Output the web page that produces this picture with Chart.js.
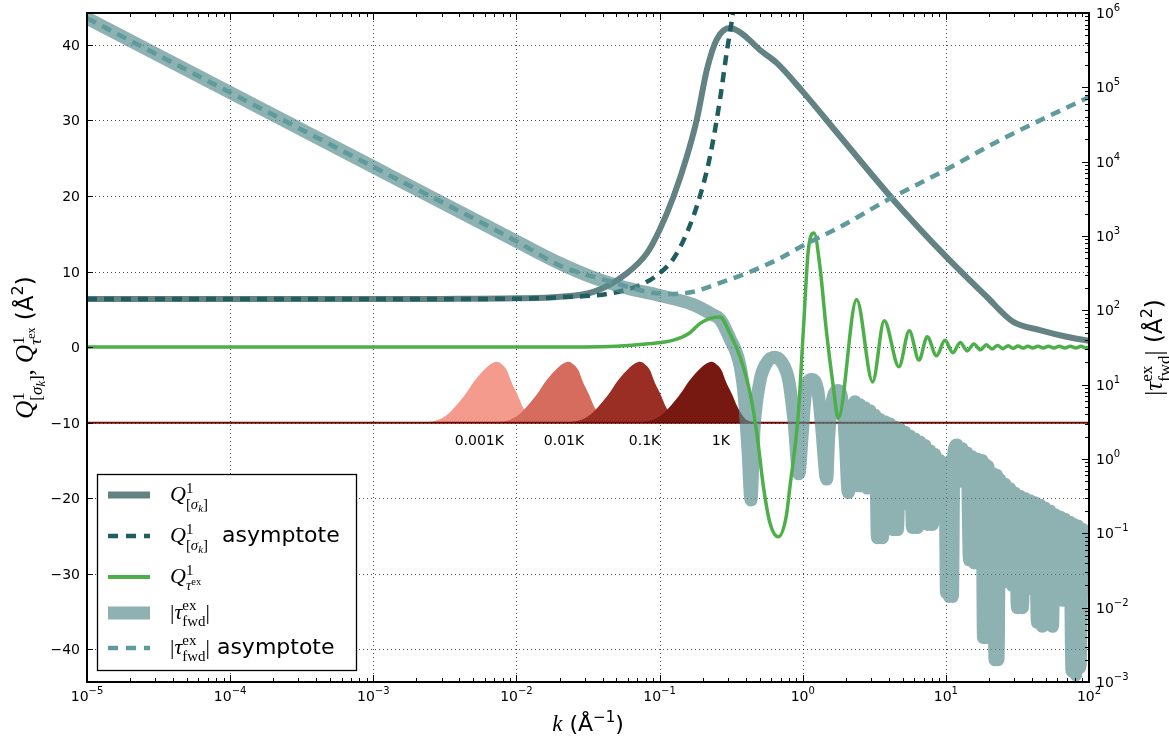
<!DOCTYPE html>
<html>
<head>
<meta charset="utf-8">
<script src="https://cdn.jsdelivr.net/npm/chart.js@4/dist/chart.umd.min.js"></script>
<style>
  body { margin: 0; background: #fff; }
  #wrap { width: 1169px; height: 740px; }
</style>
</head>
<body>
<div id="wrap"><canvas id="chart" width="1169" height="740"></canvas></div>
<script>
// ---- data ----
// Q^1_[sigma_k] (left axis)
const kQ = [1e-5, 1e-4, 1e-3, 0.003, 0.01, 0.0202, 0.0345, 0.059, 0.0814, 0.1, 0.125, 0.155, 0.182, 0.214, 0.251, 0.31, 0.375, 0.503, 0.658, 1.0, 1.82, 4.29, 10, 19.3, 29.5, 45.4, 69.7, 100];
const qSigma = [6.36, 6.36, 6.36, 6.38, 6.45, 6.66, 7.3, 9.76, 12.4, 15.5, 19.9, 25.2, 30.1, 36.7, 40.7, 42.2, 41.5, 39.3, 37.6, 33.8, 27.9, 19.5, 12.0, 6.66, 3.35, 2.25, 1.37, 0.85];

// Q^1_[sigma_k] asymptote (left axis)
const kQAsym = [1e-5, 1e-3, 0.01, 0.02, 0.045, 0.077, 0.1, 0.125, 0.155, 0.191, 0.225, 0.264, 0.294, 0.328, 0.345];
const qSigmaAsym = [6.36, 6.36, 6.4, 6.6, 7.1, 8.4, 9.76, 11.7, 15.1, 19.9, 25.2, 32.7, 38.9, 44.6, 48];

// Q^1_tau_ex (left axis)
const kTau = [1e-5, 0.01, 0.03, 0.05, 0.08, 0.125, 0.16, 0.191, 0.225, 0.264, 0.31, 0.365, 0.429, 0.478, 0.531, 0.591, 0.675, 0.765, 0.815, 0.932, 1.01, 1.094, 1.2, 1.32, 1.47, 1.635, 1.77, 2.38, 3.08, 3.71, 4.7, 5.55, 6.49, 7.41, 8.6, 9.86, 11.2, 12.6, 14.1, 15.7, 17.4, 19.2, 21.0, 23.0, 25.0, 27.3, 29.5, 31.9, 34.5, 37.4, 40.5, 44, 48, 52, 57, 62, 68, 74, 81, 88, 95, 100];
const qTauEx = [0, 0, 0, 0.1, 0.4, 0.93, 1.8, 3.1, 3.8, 4.0, 1.8, -1.3, -6.1, -11.4, -18.4, -23.3, -25.1, -22.5, -18.4, -8.8, 2.2, 12.8, 15.1, 10.6, 1.8, -5.2, -9.4, 6.3, -4.6, 3.5, -2.6, 2.16, -1.72, 1.37, -1.15, 0.9, -0.75, 0.62, -0.5, 0.42, -0.35, 0.3, -0.25, 0.22, -0.2, 0.18, -0.16, 0.14, -0.13, 0.12, -0.12, 0.11, -0.1, 0.1, -0.1, 0.1, -0.1, 0.1, -0.1, 0.1, -0.1, 0];

// |tau_fwd^ex| (right axis), stored as powers of ten
const kFwd = [1e-5, 1e-4, 1e-3, 0.01, 0.0202, 0.0345, 0.059, 0.1, 0.17, 0.236, 0.264, 0.31, 0.365, 0.39, 0.415, 0.435, 0.457, 0.503, 0.554, 0.63, 0.716, 0.80, 0.87, 0.94, 0.99, 1.04, 1.15, 1.28, 1.36, 1.47, 1.52, 1.6, 1.77, 1.91, 1.99, 2.08,
  2.21, 2.32, 2.414, 2.51, 2.617, 2.72, 2.835, 2.95, 3.072, 3.20, 3.329, 3.46, 3.608, 3.75, 3.91, 4.07, 4.238, 4.41, 4.592, 4.78, 4.977, 5.18, 5.393, 5.61, 5.846, 6.08, 6.335, 6.59, 6.865, 7.14, 7.439, 7.74, 8.062, 8.39, 8.737, 9.09, 9.469, 9.86,
  10.1, 10.34, 10.6, 10.85, 11.12, 11.39, 11.95, 12.45, 12.95, 13.49, 14.04, 14.62, 15.22, 15.84, 16.49, 17.17, 17.87, 18.31, 18.75, 19.2, 19.68, 20.49, 21.33, 22.03, 22.56, 23.12, 23.87, 24.85, 25.86, 26.93, 28.03, 29.18, 30.38, 31.62, 32.92, 34.27, 35.68, 37.14, 38.67, 40.25, 41.9, 43.62, 45.41, 47.27, 49.2, 51.23, 53.33, 55.51, 57.79, 60.15, 62.62, 65.19, 67.86, 70.66, 73.55, 75.96, 78.45, 81.0, 83.67, 86.41, 90.7, 95.1, 100];
const fwdExp = [5.93, 4.93, 3.93, 2.93, 2.63, 2.44, 2.30, 2.2, 2.08, 1.94, 1.88, 1.62, 1.25, 0.85, 0.1, -0.55, 0.4, 1.05, 1.28, 1.37, 1.3, 1.05, 0.5, -0.2, 0.3, 0.85, 1.07, 0.9, 0.4, -0.27, 0.3, 0.75, 0.92, 0.7, 0.2, -0.45,
  0.4, 0.77, -0.36, 0.73, -0.36, 0.69, -0.39, 0.65, -0.39, 0.59, -1.06, 0.53, -1.06, 0.50, -0.6, 0.47, -0.95, 0.43, -0.95, 0.40, -0.6, 0.36, -0.6, 0.31, -0.92, 0.27, -0.92, 0.23, -0.62, 0.18, -0.88, 0.11, -0.88, 0.06, -0.63, -0.02, -0.64, -0.10,
  -1.8, -0.08, -1.85, -0.02, -1.85, 0.10, 0.19, -0.3, 0.14, -0.28, 0.08, -1.36, 0.03, -1.40, 0.0, -1.36, -0.02, -2.4, -0.07, -2.4, -0.10, -1.4, -0.2, -2.7, -0.22, -2.7, -0.28, -1.5, -0.34, -1.65, -0.40, -1.7, -0.46, -2.0, -0.50, -2.0, -0.53, -1.7, -0.56, -1.75, -0.59, -2.2, -0.62, -2.25, -0.66, -1.8, -0.70, -2.25, -0.75, -1.8, -0.78, -1.9, -0.81, -1.8, -0.85, -2.85, -0.88, -2.9, -0.90, -2.8, -0.95, -1.2, -1.0];

// |tau_fwd^ex| asymptote (right axis), powers of ten
const kFwdAsym = [1e-5, 1e-3, 0.01, 0.0202, 0.045, 0.077, 0.118, 0.172, 0.264, 0.406, 0.694, 1.0, 1.82, 3.86, 10, 23.9, 100];
const fwdAsymExp = [5.93, 3.93, 2.93, 2.6, 2.39, 2.26, 2.22, 2.25, 2.37, 2.5, 2.7, 2.87, 3.12, 3.48, 3.89, 4.29, 4.87];

// thermal distributions drawn on the -10 baseline
const humpShape = [-10, -9.97, -9.88, -9.5, -8.6, -7.1, -5.9, -4.65, -3.55, -2.65, -2.15, -1.95, -2.2, -3.05, -4.5, -6.1, -8.1, -9.45, -9.9, -10];
const kHump1 = [0.0014, 0.00212, 0.00249, 0.00293, 0.00344, 0.00405, 0.00453, 0.00501, 0.00558, 0.00621, 0.00676, 0.0073, 0.00782, 0.00857, 0.00918, 0.01007, 0.0112, 0.01248, 0.01396, 0.0159];
const kHump2 = [0.0044, 0.0067, 0.00787, 0.00926, 0.01088, 0.0128, 0.01432, 0.01584, 0.01764, 0.01963, 0.02137, 0.02308, 0.02472, 0.0271, 0.0290, 0.03184, 0.0354, 0.03946, 0.04414, 0.0503];
const kHump3 = [0.014, 0.0212, 0.0249, 0.0293, 0.0344, 0.0405, 0.0453, 0.0501, 0.0558, 0.0621, 0.0676, 0.073, 0.0782, 0.0857, 0.0918, 0.1007, 0.112, 0.1248, 0.1396, 0.159];
const kHump4 = [0.044, 0.067, 0.0787, 0.0926, 0.1088, 0.128, 0.1432, 0.1584, 0.1764, 0.1963, 0.2137, 0.2308, 0.2472, 0.271, 0.290, 0.3184, 0.354, 0.3946, 0.4414, 0.503];
const humpLabels = ['0.001K', '0.01K', '0.1K', '1K'];
const humpLabelK = [0.0055, 0.0215, 0.0785, 0.268];
const humpLabelY = -12.3;
const baseK = [1e-5, 100];
const baseY = [-10, -10];

// ticks
const xTickValues = [1e-5, 1e-4, 1e-3, 1e-2, 1e-1, 1, 10, 100];
const xTickExp = ['\u22125', '\u22124', '\u22123', '\u22122', '\u22121', '0', '1', '2'];
const yTickValues = [-40, -30, -20, -10, 0, 10, 20, 30, 40];
const yTickLabels = ['\u221240', '\u221230', '\u221220', '\u221210', '0', '10', '20', '30', '40'];
const y1TickValues = [1e-3, 1e-2, 1e-1, 1, 10, 100, 1e3, 1e4, 1e5, 1e6];
const y1TickExp = ['\u22123', '\u22122', '\u22121', '0', '1', '2', '3', '4', '5', '6'];

// colours
const qColor = '#638283';
const qAsymColor = '#1f5d5f';
const greenColor = '#4caf49';
const fwdColor = 'rgba(88,140,142,0.68)';
const fwdAsymColor = '#5f9b9c';
const humpColors = ['#f59b8d', '#d66c5e', '#9b2e24', '#771910'];
const baseColor = '#6b0a05';

const pts = (xs, ys) => xs.map((x, i) => ({ x: x, y: ys[i] }));
const pow10 = (xs, es) => xs.map((x, i) => ({ x: x, y: Math.pow(10, es[i]) }));

const sans = s => `${s}px "DejaVu Sans"`;
const it = s => `italic ${s}px "Liberation Serif"`;
const rm = s => `${s}px "Liberation Serif"`;

function qSigmaParts(s) {
    return [
        { t: 'Q', f: it(s) },
        { t: '1', f: rm(s * 0.68), dy: -s * 0.38, save: true },
        { t: '[', f: rm(s * 0.68), dy: s * 0.36, back: true },
        { t: '\u03c3', f: it(s * 0.68), dy: s * 0.36 },
        { t: 'k', f: it(s * 0.5), dy: s * 0.48 },
        { t: ']', f: rm(s * 0.68), dy: s * 0.36 }
    ];
}
function qTauParts(s) {
    return [
        { t: 'Q', f: it(s) },
        { t: '1', f: rm(s * 0.68), dy: -s * 0.38, save: true },
        { t: '\u03c4', f: it(s * 0.68), dy: s * 0.3, back: true },
        { t: 'ex', f: rm(s * 0.48), dy: s * 0.08 }
    ];
}
function tauFwdParts(s) {
    return [
        { t: '|', f: rm(s) },
        { t: '\u03c4', f: it(s) },
        { t: 'ex', f: rm(s * 0.68), dy: -s * 0.4, save: true },
        { t: 'fwd', f: rm(s * 0.68), dy: s * 0.3, back: true },
        { t: '|', f: rm(s), merge: true }
    ];
}

function drawRich(ctx, parts, x, y, align) {
    const run = (x0, draw) => {
        let cx = x0, saved = x0, hi = x0;
        for (const p of parts) {
            if (p.save) saved = cx;
            if (p.back) { hi = cx; cx = saved; }
            if (p.merge) cx = Math.max(cx, hi);
            ctx.font = p.f;
            if (draw) ctx.fillText(p.t, cx, y + (p.dy || 0));
            cx += ctx.measureText(p.t).width;
        }
        return Math.max(cx, hi) - x0;
    };
    const w = run(0, false);
    const x0 = align === 'center' ? x - w / 2 : align === 'right' ? x - w : x;
    run(x0, true);
    return w;
}

function hline(ctx, x1, y1, x2, y2) {
    ctx.beginPath();
    ctx.moveTo(x1, y1);
    ctx.lineTo(x2, y2);
    ctx.stroke();
}

const legendItems = [
    { parts: qSigmaParts(22), color: qColor, width: 7, dash: [] },
    { parts: qSigmaParts(22).concat([{ t: '  asymptote', f: sans(22), merge: true }]), color: qAsymColor, width: 4.5, dash: [10, 8] },
    { parts: qTauParts(22), color: greenColor, width: 4, dash: [] },
    { parts: tauFwdParts(22), color: fwdColor, width: 13, dash: [] },
    { parts: tauFwdParts(22).concat([{ t: ' asymptote', f: sans(22) }]), color: fwdAsymColor, width: 4.5, dash: [10, 8] }
];

const decor = {
    id: 'decor',
    beforeDatasetsDraw(chart) {
        const { ctx, chartArea: a, scales } = chart;
        ctx.save();
        ctx.strokeStyle = 'rgba(0,0,0,0.7)';
        ctx.lineWidth = 1;
        ctx.setLineDash([1, 3]);
        xTickValues.slice(1, -1).forEach(v => {
            const px = Math.round(scales.x.getPixelForValue(v)) + 0.5;
            hline(ctx, px, a.top, px, a.bottom);
        });
        yTickValues.forEach(v => {
            const py = Math.round(scales.y.getPixelForValue(v)) + 0.5;
            hline(ctx, a.left, py, a.right, py);
        });
        ctx.restore();
    },
    afterDatasetsDraw(chart) {
        const { ctx, chartArea: a, scales } = chart;
        ctx.save();
        ctx.strokeStyle = '#000';
        ctx.fillStyle = '#000';
        ctx.lineWidth = 1;

        // ticks
        xTickValues.forEach(v => {
            const px = Math.round(scales.x.getPixelForValue(v)) + 0.5;
            hline(ctx, px, a.bottom, px, a.bottom - 7);
            hline(ctx, px, a.top, px, a.top + 7);
        });
        for (let d = -5; d < 2; d++) {
            for (let m = 2; m < 10; m++) {
                const px = Math.round(scales.x.getPixelForValue(m * Math.pow(10, d))) + 0.5;
                hline(ctx, px, a.bottom, px, a.bottom - 4);
                hline(ctx, px, a.top, px, a.top + 4);
            }
        }
        yTickValues.forEach(v => {
            const py = Math.round(scales.y.getPixelForValue(v)) + 0.5;
            hline(ctx, a.left, py, a.left + 6, py);
        });
        y1TickValues.forEach(v => {
            const py = Math.round(scales.y1.getPixelForValue(v)) + 0.5;
            hline(ctx, a.right, py, a.right - 7, py);
        });
        for (let d = -3; d < 6; d++) {
            for (let m = 2; m < 10; m++) {
                const py = Math.round(scales.y1.getPixelForValue(m * Math.pow(10, d))) + 0.5;
                hline(ctx, a.right, py, a.right - 4, py);
            }
        }

        // frame
        ctx.lineWidth = 2;
        ctx.strokeRect(a.left, a.top, a.right - a.left, a.bottom - a.top);

        // tick labels
        ctx.textBaseline = 'alphabetic';
        xTickValues.forEach((v, i) => {
            const px = scales.x.getPixelForValue(v);
            drawRich(ctx, [{ t: '10', f: sans(14) }, { t: xTickExp[i], f: sans(10), dy: -7 }], px, a.bottom + 19, 'center');
        });
        yTickValues.forEach((v, i) => {
            const py = scales.y.getPixelForValue(v);
            drawRich(ctx, [{ t: yTickLabels[i], f: sans(14) }], a.left - 7, py + 5, 'right');
        });
        y1TickValues.forEach((v, i) => {
            const py = scales.y1.getPixelForValue(v);
            drawRich(ctx, [{ t: '10', f: sans(14) }, { t: y1TickExp[i], f: sans(10), dy: -7 }], a.right + 7, py + 5, 'left');
        });

        // hump labels
        humpLabels.forEach((txt, i) => {
            drawRich(ctx, [{ t: txt, f: sans(14) }], scales.x.getPixelForValue(humpLabelK[i]), scales.y.getPixelForValue(humpLabelY) + 5, 'center');
        });

        // axis titles
        drawRich(ctx, [
            { t: 'k', f: it(23) },
            { t: ' (\u00c5', f: sans(22) },
            { t: '\u22121', f: sans(15), dy: -9 },
            { t: ')', f: sans(22) }
        ], (a.left + a.right) / 2, 731, 'center');

        ctx.save();
        ctx.translate(33, (a.top + a.bottom) / 2);
        ctx.rotate(-Math.PI / 2);
        drawRich(ctx, qSigmaParts(25).concat([{ t: ', ', f: rm(25), merge: true }], qTauParts(25), [
            { t: ' (\u00c5', f: sans(23), merge: true },
            { t: '2', f: sans(16), dy: -10 },
            { t: ')', f: sans(23) }
        ]), 0, 0, 'center');
        ctx.restore();

        ctx.save();
        ctx.translate(1162, (a.top + a.bottom) / 2);
        ctx.rotate(-Math.PI / 2);
        drawRich(ctx, tauFwdParts(25).concat([
            { t: ' (\u00c5', f: sans(23) },
            { t: '2', f: sans(16), dy: -10 },
            { t: ')', f: sans(23) }
        ]), 0, 0, 'center');
        ctx.restore();

        // legend
        ctx.fillStyle = '#fff';
        ctx.fillRect(97, 474, 260, 196);
        ctx.strokeStyle = '#000';
        ctx.lineWidth = 1.3;
        ctx.strokeRect(97.5, 474.5, 259, 196);
        const rows = [495, 536, 577, 613, 648];
        legendItems.forEach((item, i) => {
            ctx.strokeStyle = item.color;
            ctx.lineWidth = item.width;
            ctx.lineCap = 'butt';
            ctx.setLineDash(item.dash);
            hline(ctx, 108, rows[i], 150, rows[i]);
            ctx.setLineDash([]);
            ctx.fillStyle = '#000';
            drawRich(ctx, item.parts, 170, rows[i] + 6, 'left');
        });
        ctx.restore();
    }
};

const common = { pointRadius: 0, fill: false, cubicInterpolationMode: 'monotone', clip: 0, borderJoinStyle: 'round' };

const humpSets = [kHump1, kHump2, kHump3, kHump4].map((ks, i) => Object.assign({}, common, {
    data: pts(ks, humpShape),
    yAxisID: 'y',
    borderColor: 'rgba(0,0,0,0)',
    borderWidth: 1,
    backgroundColor: humpColors[i],
    fill: { value: -10 },
    order: 9 - i
}));

new Chart(document.getElementById('chart'), {
    type: 'line',
    data: {
        datasets: humpSets.concat([
            Object.assign({}, common, { data: pts(baseK, baseY), yAxisID: 'y', borderColor: baseColor, borderWidth: 2, order: 5 }),
            Object.assign({}, common, { data: pts(kQ, qSigma), yAxisID: 'y', borderColor: qColor, borderWidth: 6, order: 4 }),
            Object.assign({}, common, { data: pts(kQAsym, qSigmaAsym), yAxisID: 'y', borderColor: qAsymColor, borderWidth: 4.5, borderDash: [10, 7], order: 3 }),
            Object.assign({}, common, { data: pow10(kFwd, fwdExp), yAxisID: 'y1', borderColor: fwdColor, borderWidth: 13, borderCapStyle: 'round', order: 2 }),
            Object.assign({}, common, { data: pts(kTau, qTauEx), yAxisID: 'y', borderColor: greenColor, borderWidth: 3.5, order: 1 }),
            Object.assign({}, common, { data: pow10(kFwdAsym, fwdAsymExp), yAxisID: 'y1', borderColor: fwdAsymColor, borderWidth: 4.5, borderDash: [10, 7], order: 0 })
        ])
    },
    options: {
        responsive: false,
        animation: false,
        events: [],
        layout: { padding: { left: 87, top: 13, right: 80, bottom: 58 } },
        plugins: { legend: { display: false }, tooltip: { enabled: false } },
        scales: {
            x: { type: 'logarithmic', min: 1e-5, max: 100, display: false },
            y: { type: 'linear', min: -44.3, max: 44.2, display: false },
            y1: { type: 'logarithmic', position: 'right', min: 1e-3, max: 1e6, display: false }
        }
    },
    plugins: [decor]
});
</script>
</body>
</html>
